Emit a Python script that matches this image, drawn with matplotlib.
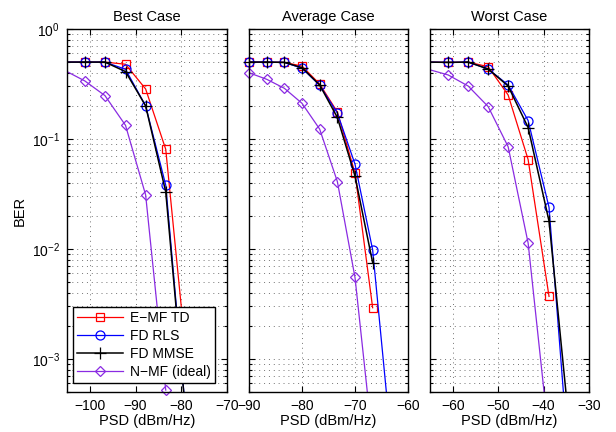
import numpy as np
import matplotlib
matplotlib.use("Agg")
import matplotlib.pyplot as plt
from matplotlib.lines import Line2D
from matplotlib.ticker import LogLocator, NullFormatter, FixedLocator

plt.rcParams['font.family'] = ['Liberation Sans', 'DejaVu Sans']
plt.rcParams['mathtext.fontset'] = 'custom'
plt.rcParams['mathtext.rm'] = 'Liberation Sans'
plt.rcParams['mathtext.it'] = 'Liberation Sans:italic'
plt.rcParams['axes.unicode_minus'] = True

# ---------------- data ----------------
titles = ["Best Case", "Average Case", "Worst Case"]
series_names = ["E\u2212MF TD", "FD RLS", "FD MMSE", "N\u2212MF (ideal)"]

best_x = [-105.5, -101.1, -96.7, -92.2, -87.8, -83.4, -79.0]
best_emf = [0.5, 0.5, 0.5, 0.478, 0.285, 0.0805, 1.13e-3]
best_rls = [0.5, 0.5, 0.5, 0.43, 0.20, 0.038, 3.1e-4]
best_mmse = [0.5, 0.5, 0.5, 0.41, 0.20, 0.033, 3.0e-4]
best_nmf = [0.42, 0.337, 0.248, 0.133, 0.031, 5.2e-4, np.nan]

avg_x = [-90.0, -86.67, -83.33, -80.0, -76.67, -73.33, -70.0, -66.67, -63.33]
avg_emf = [0.5, 0.5, 0.497, 0.46, 0.316, 0.176, 0.0488, 0.00292, np.nan]
avg_rls = [0.5, 0.5, 0.497, 0.44, 0.308, 0.172, 0.059, 0.0098, 2.1e-4]
avg_mmse = [0.5, 0.5, 0.497, 0.445, 0.31, 0.157, 0.046, 0.0075, np.nan]
avg_nmf = [0.40, 0.349, 0.289, 0.211, 0.123, 0.041, 0.0055, 1.77e-4, np.nan]

worst_x = [-65.4, -61.0, -56.6, -52.2, -47.8, -43.4, -38.8, -34.4]
worst_emf = [0.5, 0.497, 0.5, 0.454, 0.251, 0.065, 0.0037, np.nan]
worst_rls = [0.5, 0.497, 0.5, 0.433, 0.31, 0.147, 0.0239, 1.1e-4]
worst_mmse = [0.5, 0.497, 0.5, 0.433, 0.303, 0.127, 0.0179, 2.6e-4]
worst_nmf = [0.43, 0.382, 0.303, 0.197, 0.085, 0.0113, 1.9e-4, np.nan]

xlims = [(-105, -70), (-90, -60), (-65, -30)]
xticks = [[-100, -90, -80, -70], [-90, -80, -70, -60], [-60, -50, -40, -30]]
ylim = (5e-4, 1.0)

panels = [
    (best_x, [best_emf, best_rls, best_mmse, best_nmf]),
    (avg_x, [avg_emf, avg_rls, avg_mmse, avg_nmf]),
    (worst_x, [worst_emf, worst_rls, worst_mmse, worst_nmf]),
]

# ---------------- style ----------------
colors = ['#FF0000', '#0000FF', '#000000', '#8A2BE2']
markers = ['s', 'o', '+', 'D']
msizes = [6.0, 6.5, 9.0, 5.5]
lws = [0.9, 0.9, 1.1, 0.9]

fig = plt.figure(figsize=(6.16, 4.32), dpi=100)
W, H = 616.0, 432.0
bottom_px, top_px = 392.0, 29.0
lefts = [67.0, 249.0, 430.0]
rights = [227.0, 408.0, 589.0]

axes = []
for i in range(3):
    ax = fig.add_axes([lefts[i] / W, 1 - bottom_px / H,
                       (rights[i] - lefts[i]) / W, (bottom_px - top_px) / H])
    axes.append(ax)

grid_style = dict(color='0.45', linestyle=(0, (1, 4)), lw=0.7)

for i, ax in enumerate(axes):
    x, ys = panels[i]
    x = np.asarray(x, dtype=float)
    xl = xlims[i]
    for k, y in enumerate(ys):
        y = np.asarray(y, dtype=float)
        ax.semilogy(x, y, '-', color=colors[k], lw=lws[k], zorder=3 + k)
        tol = 0.05
        m = (~np.isnan(y)) & (x >= xl[0] - tol) & (x <= xl[1] + tol) & (y >= ylim[0] * 0.999) & (y <= ylim[1])
        ax.plot(x[m], y[m], linestyle='none', marker=markers[k], ms=msizes[k],
                mfc='none', mec=colors[k], mew=0.9, clip_on=False, zorder=3 + k)
    ax.set_yscale('log')
    ax.set_xlim(*xl)
    ax.set_ylim(*ylim)
    ax.xaxis.set_major_locator(FixedLocator(xticks[i]))
    ax.yaxis.set_major_locator(LogLocator(base=10, numticks=10))
    ax.yaxis.set_minor_locator(LogLocator(base=10, subs=np.arange(2, 10), numticks=20))
    ax.yaxis.set_minor_formatter(NullFormatter())
    ax.grid(True, which='major', axis='both', **grid_style)
    ax.grid(True, which='minor', axis='y', **grid_style)
    ax.tick_params(which='both', direction='in', top=True, right=True, labelsize=10, width=0.8)
    ax.tick_params(which='major', length=4.5, pad=5)
    ax.tick_params(which='minor', length=2.5)
    for s in ax.spines.values():
        s.set_linewidth(1.0)
        s.set_zorder(10)
    ax.set_title(titles[i], fontsize=10.5, pad=6)
    ax.set_xlabel("PSD (dBm/Hz)", fontsize=10.5, labelpad=1)
    if i > 0:
        ax.set_yticklabels([])
    else:
        ax.set_ylabel("BER", fontsize=10.5, labelpad=4)

handles = [Line2D([], [], color=colors[k], lw=lws[k], marker=markers[k], ms=msizes[k],
                  mfc='none', mec=colors[k], mew=0.9) for k in range(4)]
leg = axes[0].legend(handles, series_names, loc='lower left',
                     bbox_to_anchor=(0.035, 0.025), borderaxespad=0,
                     fontsize=10, handlelength=3.3, labelspacing=0.28,
                     handletextpad=0.5, borderpad=0.3, fancybox=False,
                     framealpha=1, edgecolor='black')
leg.get_frame().set_linewidth(1.0)
leg.set_zorder(20)

fig.savefig("out.png", dpi=100)
